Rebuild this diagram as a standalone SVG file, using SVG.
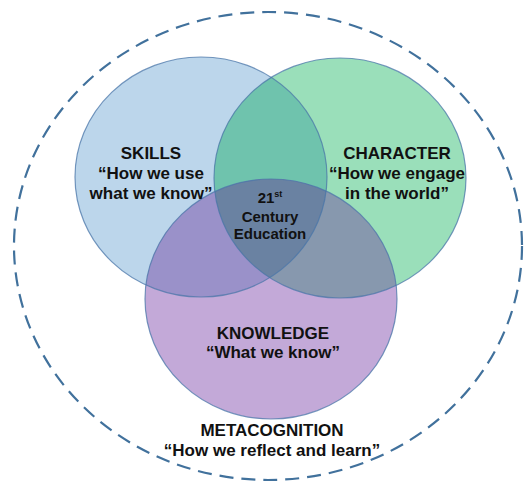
<svg xmlns="http://www.w3.org/2000/svg" width="527" height="486" viewBox="0 0 527 486">
<style>
text{font-family:"Liberation Sans",Arial,sans-serif;font-weight:bold;fill:#111;text-anchor:middle}
.t{font-size:17px}
.c{font-size:15px}
.ring{fill:none;stroke:#4a76a8;stroke-opacity:0.75;stroke-width:1.2}
</style>
<defs>
<clipPath id="cs"><ellipse cx="201" cy="177" rx="126" ry="120"/></clipPath>
<clipPath id="cc"><ellipse cx="340" cy="178" rx="126" ry="120"/></clipPath>
</defs>
<rect width="527" height="486" fill="#fff"/>
<g id="metacognition">
<ellipse cx="268" cy="246" rx="254" ry="234" fill="none" stroke="#41719c" stroke-width="2.2" stroke-dasharray="14 8"/>
<text class="t" x="272" y="436">METACOGNITION</text>
<text class="t" x="272" y="456">“How we reflect and learn”</text>
</g>
<g id="skills">
<ellipse cx="201" cy="177" rx="126" ry="120" fill="#bcd6eb"/>
</g>
<g id="character">
<ellipse cx="340" cy="178" rx="126" ry="120" fill="#9adfba"/>
<ellipse cx="340" cy="178" rx="126" ry="120" fill="#6fc3ad" clip-path="url(#cs)"/>
</g>
<g id="knowledge">
<ellipse cx="271" cy="299" rx="126" ry="120" fill="#c3a9d8"/>
<ellipse cx="271" cy="299" rx="126" ry="120" fill="#9a91c9" clip-path="url(#cs)"/>
<ellipse cx="271" cy="299" rx="126" ry="120" fill="#8798ae" clip-path="url(#cc)"/>
<g clip-path="url(#cs)"><ellipse cx="271" cy="299" rx="126" ry="120" fill="#6a82a2" clip-path="url(#cc)"/></g>
</g>
<g id="outlines">
<ellipse class="ring" cx="201" cy="177" rx="126" ry="120"/>
<ellipse class="ring" cx="340" cy="178" rx="126" ry="120"/>
<ellipse class="ring" cx="271" cy="299" rx="126" ry="120"/>
</g>
<g id="skills-label">
<text class="t" x="151" y="159">SKILLS</text>
<text class="t" x="151" y="179">“How we use</text>
<text class="t" x="151" y="199">what we know”</text>
</g>
<g id="character-label">
<text class="t" x="397" y="159">CHARACTER</text>
<text class="t" x="397" y="179">“How we engage</text>
<text class="t" x="397" y="199">in the world”</text>
</g>
<g id="knowledge-label">
<text class="t" x="273" y="339">KNOWLEDGE</text>
<text class="t" x="273" y="358">“What we know”</text>
</g>
<g id="center">
<text class="c" x="270" y="203">21<tspan font-size="9" dy="-6">st</tspan></text>
<text class="c" x="270" y="222">Century</text>
<text class="c" x="270" y="239">Education</text>
</g>
</svg>
